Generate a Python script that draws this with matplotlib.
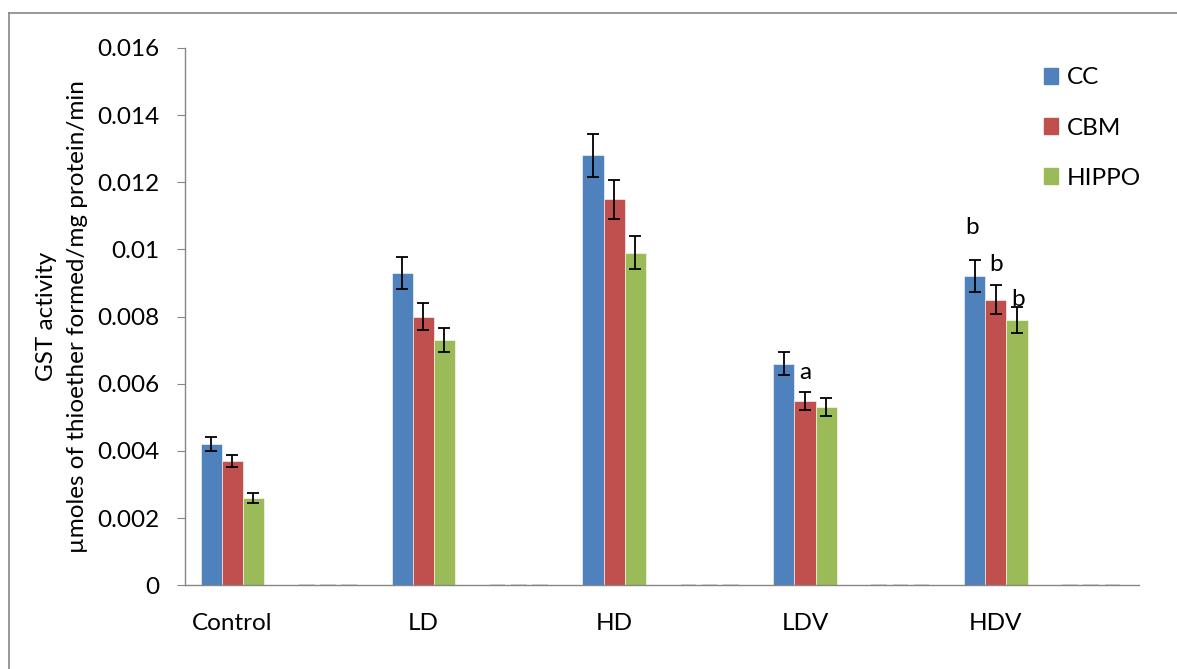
"""GST activity bar chart (CC / CBM / HIPPO) with error bars."""
import matplotlib
matplotlib.use("Agg")
import matplotlib.pyplot as plt
from matplotlib.lines import Line2D
from matplotlib.patches import Patch
import numpy as np

# ten Excel categories: the unlabeled ones hold zero-height bars
categories = ["Control", "", "LD", "", "HD", "", "LDV", "", "HDV", ""]
cc = [0.0042, 0, 0.0093, 0, 0.0128, 0, 0.0066, 0, 0.0092, 0]
cbm = [0.0037, 0, 0.0080, 0, 0.0115, 0, 0.0055, 0, 0.0085, 0]
hippo = [0.0026, 0, 0.0073, 0, 0.0099, 0, 0.0053, 0, 0.0079, 0]
cc_err = [0.00021, 0, 0.00047, 0, 0.00064, 0, 0.00034, 0, 0.00048, 0]
cbm_err = [0.00019, 0, 0.00041, 0, 0.00058, 0, 0.00027, 0, 0.00043, 0]
hippo_err = [0.00014, 0, 0.00036, 0, 0.00049, 0, 0.00027, 0, 0.00040, 0]
series_names = ["CC", "CBM", "HIPPO"]
colors = ["#4F81BD", "#C0504D", "#9BBB59"]
yticks = [0, 0.002, 0.004, 0.006, 0.008, 0.01, 0.012, 0.014, 0.016]
ytick_labels = ["0", "0.002", "0.004", "0.006", "0.008", "0.01", "0.012", "0.014", "0.016"]

# significance letters: (category index, series index, letter)
sig_marks = [(6, 0, "a"), (8, 0, "b"), (8, 1, "b"), (8, 2, "b")]
# label placement relative to bar top: (x shift in categories, y shift)
sig_offsets = [(0.22, -0.00025), (-0.03, 0.00145), (0.0, 0.00104), (0.01, 0.0006)]

plt.rcParams["font.family"] = ["Lato", "DejaVu Sans"]
FS = 17.5

fig = plt.figure(figsize=(11.77, 6.69), dpi=100)
ax = fig.add_axes([0.1568, 0.1251, 0.8110, 0.8032])

x = np.arange(len(categories))
w = 0.221
values = [cc, cbm, hippo]
errors = [cc_err, cbm_err, hippo_err]
for i, (vals, errs, col) in enumerate(zip(values, errors, colors)):
    pos = x + (i - 1) * w
    v = np.array(vals)
    e = np.array(errs)
    filled = v > 0
    ax.bar(pos[filled], v[filled], width=w, color=col, edgecolor="white",
           linewidth=0.4, zorder=2)
    # zero-height bars show up as faint dashes on the axis
    ax.bar(pos[~filled], v[~filled], width=w * 0.75, color=col,
           edgecolor="#d0d0d0", linewidth=1.2, zorder=2)
    ax.errorbar(pos[filled], v[filled], yerr=e[filled], fmt="none",
                ecolor="black", elinewidth=1.3, capsize=4.3, capthick=1.3,
                zorder=3)

for (cat, s, letter), (dx, dy) in zip(sig_marks, sig_offsets):
    ax.text(x[cat] + (s - 1) * w + dx, values[s][cat] + dy, letter,
            ha="center", va="center", fontsize=FS)

ax.set_xlim(-0.5, len(categories) - 0.5)
ax.set_ylim(0, 0.016)
ax.set_yticks(yticks)
ax.set_yticklabels(ytick_labels, fontsize=FS)
ax.set_xticks(x)
ax.set_xticklabels(categories, fontsize=FS)
ax.tick_params(axis="x", length=0, pad=20)
ax.tick_params(axis="y", length=6, width=0.8, color="#868686", pad=12)
for side in ["top", "right"]:
    ax.spines[side].set_visible(False)
for side in ["left", "bottom"]:
    ax.spines[side].set_color("#868686")
    ax.spines[side].set_linewidth(1.0)

ax.set_ylabel("GST activity\nµmoles of thioether formed/mg protein/min",
              fontsize=FS, labelpad=7, linespacing=1.55)

handles = [Patch(facecolor=c, edgecolor=c) for c in colors]
fig.legend(handles, series_names, loc="upper left",
           bbox_to_anchor=(0.868, 0.932), frameon=False, fontsize=FS,
           handlelength=0.6, handleheight=0.6, handletextpad=0.35,
           labelspacing=1.2)

# chart-area outline (top and left edges visible in the original)
fig.add_artist(Line2D([9 / 1177, 1.0], [1 - 13 / 669, 1 - 13 / 669],
                      transform=fig.transFigure, color="#868686", lw=1.2))
fig.add_artist(Line2D([9 / 1177, 9 / 1177], [0.0, 1 - 13 / 669],
                      transform=fig.transFigure, color="#868686", lw=1.2))

fig.savefig("out.png", dpi=100)
